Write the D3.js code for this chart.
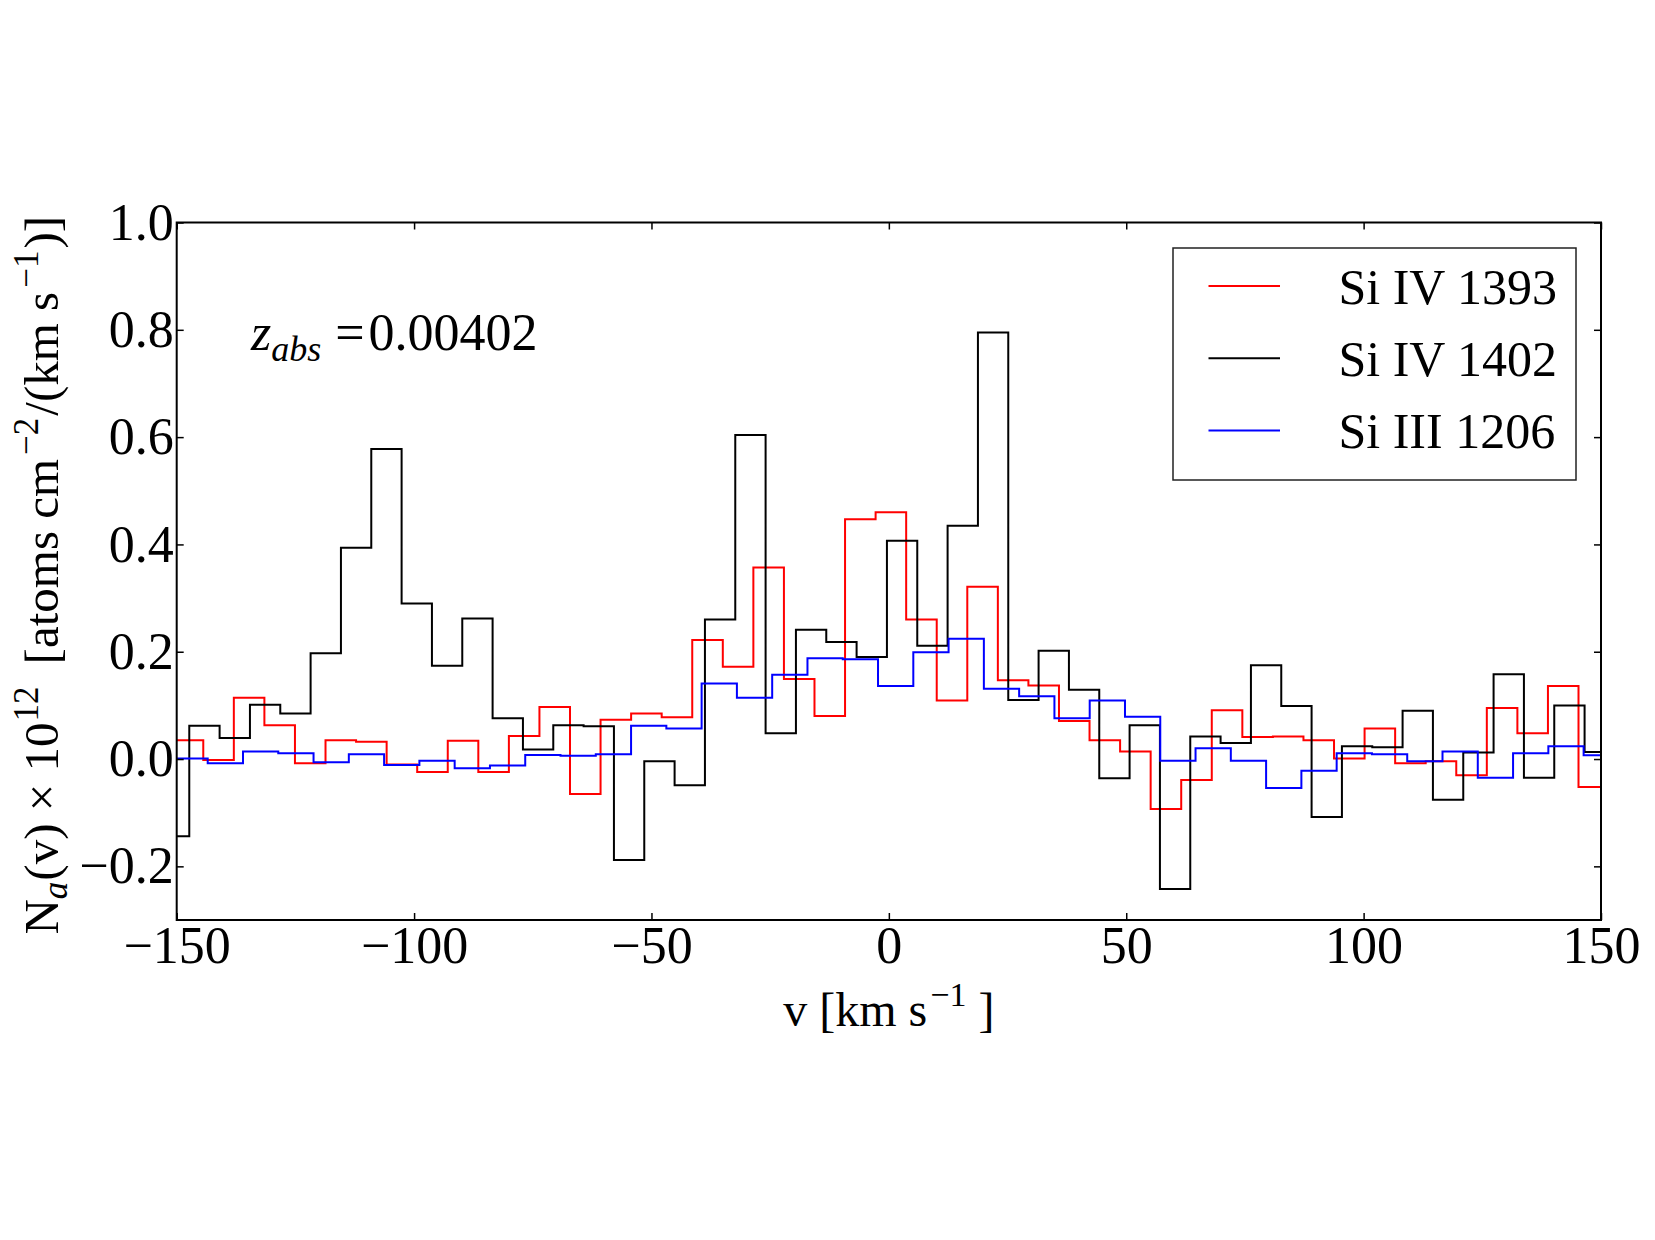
<!DOCTYPE html>
<html>
<head>
<meta charset="utf-8">
<script src="https://cdn.jsdelivr.net/npm/d3@7"></script>
<style>
body { margin: 0; background: #fff; }
svg text { font-family: "Liberation Serif", "Times New Roman", serif; fill: #000; }
</style>
</head>
<body>
<div id="grafico"></div>
<script>
/////////// DATOS /////////
// Each line is a binned spectrum: first bin edge (km/s), bin width (km/s), N_a values (x 1e12)
const seriesNames = ["Si IV 1393", "Si IV 1402", "Si III 1206"];
const seriesColors = ["#ff0000", "#000000", "#0000ff"];

// Si IV 1393 (rojo)
const redStart = -150.84, redBin = 6.437;
const redValues = [0.035, -0.002, 0.114, 0.063, -0.008, 0.035, 0.032, -0.010, -0.024, 0.034,
  -0.024, 0.043, 0.097, -0.065, 0.073, 0.085, 0.078, 0.222, 0.172, 0.357,
  0.149, 0.080, 0.447, 0.460, 0.260, 0.109, 0.321, 0.147, 0.137, 0.071,
  0.035, 0.014, -0.093, -0.039, 0.091, 0.041, 0.042, 0.035, 0.001, 0.057,
  -0.008, -0.004, -0.030, 0.095, 0.048, 0.136, -0.052];

// Si IV 1402 (negro)
const blackStart = -153.74, blackBin = 6.389;
const blackValues = [-0.144, 0.062, 0.039, 0.101, 0.085, 0.197, 0.394, 0.578, 0.290, 0.174,
  0.262, 0.076, 0.018, 0.063, 0.061, -0.188, -0.004, -0.049, 0.260, 0.604,
  0.048, 0.241, 0.218, 0.190, 0.407, 0.211, 0.435, 0.795, 0.110, 0.202,
  0.129, -0.036, 0.063, -0.242, 0.042, 0.030, 0.175, 0.099, -0.108, 0.024,
  0.022, 0.090, -0.076, 0.012, 0.158, -0.035, 0.100, 0.013];

// Si III 1206 (azul)
const blueStart = -150.90, blueBin = 7.431;
const blueValues = [0.001, -0.008, 0.014, 0.011, -0.006, 0.009, -0.011, -0.003, -0.017, -0.012,
  0.0075, 0.006, 0.009, 0.062, 0.057, 0.141, 0.114, 0.157, 0.188, 0.186,
  0.136, 0.199, 0.224, 0.131, 0.117, 0.076, 0.109, 0.079, -0.003, 0.020,
  -0.003, -0.054, -0.022, 0.011, 0.009, -0.004, 0.014, -0.035, 0.011, 0.024,
  0.007];

const xTicks = [-150, -100, -50, 0, 50, 100, 150];
const yTicks = [-0.2, 0.0, 0.2, 0.4, 0.6, 0.8, 1.0];
const xDomain = [-150, 150];
const yDomain = [-0.3, 1.0];
const redshiftLabel = "0.00402";

/////////// DISTANCIA /////////
const W = 1655, H = 1240;
const margin = {top: 222.5, right: 54, bottom: 320, left: 176.7};
const width = W - margin.left - margin.right,
      height = H - margin.top - margin.bottom;

const svg = d3.select("#grafico").append("svg")
  .attr("width", W)
  .attr("height", H)
  .style("background", "#fff");

const g = svg.append("g")
  .attr("transform", "translate(" + margin.left + "," + margin.top + ")");

/////////// ESCALAS /////////
const x = d3.scaleLinear().domain(xDomain).range([0, width]);
const y = d3.scaleLinear().domain(yDomain).range([height, 0]);

function fmtY(d) { return d3.format(".1f")(d).replace("-", "\u2212"); }
function fmtX(d) { return String(d).replace("-", "\u2212"); }

/////////// LINEAS /////////
svg.append("defs").append("clipPath").attr("id", "recorte")
  .append("rect").attr("width", width).attr("height", height);

const series = [
  {start: redStart, bin: redBin, values: redValues},
  {start: blackStart, bin: blackBin, values: blackValues},
  {start: blueStart, bin: blueBin, values: blueValues}
];

const line = d3.line()
  .x(d => x(d[0]))
  .y(d => y(d[1]))
  .curve(d3.curveStepAfter);

const plot = g.append("g").attr("clip-path", "url(#recorte)");
series.forEach(function(s, i) {
  const pts = s.values.map((v, k) => [s.start + k * s.bin, v]);
  pts.push([s.start + s.values.length * s.bin, s.values[s.values.length - 1]]);
  plot.append("path")
    .datum(pts)
    .attr("fill", "none")
    .attr("stroke", seriesColors[i])
    .attr("stroke-width", 2)
    .attr("d", line);
});

/////////// EJES /////////
const tickLen = 7;
const axBottom = g.append("g").attr("transform", "translate(0," + height + ")")
  .call(d3.axisBottom(x).tickValues(xTicks).tickSizeInner(-tickLen).tickSizeOuter(0).tickPadding(6).tickFormat(fmtX));
const axTop = g.append("g")
  .call(d3.axisTop(x).tickValues(xTicks).tickSizeInner(-tickLen).tickSizeOuter(0).tickFormat(""));
const axLeft = g.append("g")
  .call(d3.axisLeft(y).tickValues(yTicks).tickSizeInner(-tickLen).tickSizeOuter(0).tickPadding(3).tickFormat(fmtY));
const axRight = g.append("g").attr("transform", "translate(" + width + ",0)")
  .call(d3.axisRight(y).tickValues(yTicks).tickSizeInner(-tickLen).tickSizeOuter(0).tickFormat(""));

[axBottom, axTop, axLeft, axRight].forEach(function(a) {
  a.select(".domain").remove();
  a.selectAll(".tick line").attr("stroke", "#000").attr("stroke-width", 1.5);
  a.selectAll("text").attr("font-size", 52).attr("font-family", "Liberation Serif").attr("fill", "#000");
});

// marco
g.append("rect")
  .attr("width", width).attr("height", height)
  .attr("fill", "none").attr("stroke", "#000").attr("stroke-width", 2);

/////////// TITULOS DE EJE /////////
const xl = svg.append("text")
  .attr("x", margin.left + width / 2)
  .attr("y", 1026)
  .attr("text-anchor", "middle")
  .attr("font-size", 48);
xl.append("tspan").text("v [km s");
xl.append("tspan").attr("font-size", 34).attr("dy", -20).attr("dx", 3).text("\u22121");
xl.append("tspan").attr("dy", 20).text(" ]");

const yl = svg.append("text")
  .attr("transform", "translate(58," + (margin.top + height / 2 + 4) + ") rotate(-90)")
  .attr("text-anchor", "middle")
  .attr("font-size", 49);
yl.append("tspan").text("N");
yl.append("tspan").attr("font-size", 35).attr("font-style", "italic").attr("dy", 9).text("a");
yl.append("tspan").attr("dy", -9).attr("dx", 1).text("(v) \u00d7 10");
yl.append("tspan").attr("font-size", 35).attr("dy", -20).attr("dx", 1).text("12");
yl.append("tspan").attr("dy", 20).attr("dx", 22).text("[atoms cm");
yl.append("tspan").attr("font-size", 35).attr("dy", -20).attr("dx", 4).text("\u22122");
yl.append("tspan").attr("dy", 20).attr("dx", 2).text("/(km s");
yl.append("tspan").attr("font-size", 35).attr("dy", -20).attr("dx", 4).text("\u22121");
yl.append("tspan").attr("dy", 20).attr("dx", 2).text(")]");

/////////// ANOTACION /////////
const zt = svg.append("text")
  .attr("x", 251).attr("y", 350)
  .attr("font-size", 52);
zt.append("tspan").attr("font-style", "italic").text("z");
zt.append("tspan").attr("font-style", "italic").attr("font-size", 36).attr("dy", 11).text("abs");
zt.append("tspan").attr("dy", -11).attr("dx", 14).text("=");
zt.append("tspan").attr("dx", 4).text(redshiftLabel);

/////////// LEYENDA /////////
const leg = svg.append("g");
leg.append("rect")
  .attr("x", 1173).attr("y", 248).attr("width", 403).attr("height", 232)
  .attr("fill", "#fff").attr("stroke", "#222").attr("stroke-width", 1.5);
seriesNames.forEach(function(name, i) {
  const yy = 286 + i * 72.3;
  leg.append("line")
    .attr("x1", 1208.5).attr("x2", 1280).attr("y1", yy).attr("y2", yy)
    .attr("stroke", seriesColors[i]).attr("stroke-width", 2);
  leg.append("text")
    .attr("x", 1338.5).attr("y", yy + 17.5)
    .attr("font-size", 50)
    .text(name);
});
</script>
</body>
</html>
